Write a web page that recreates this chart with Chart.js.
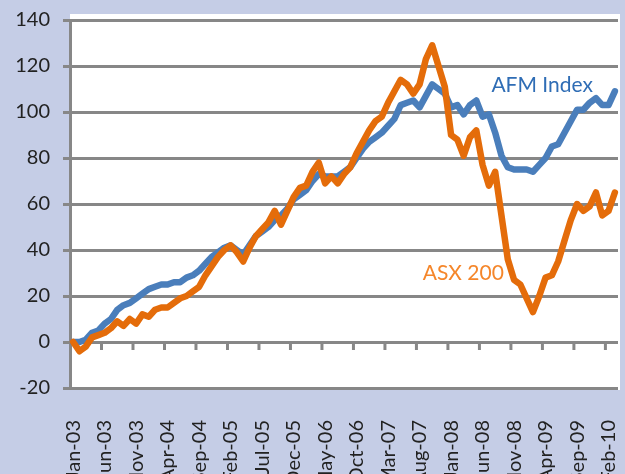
<!DOCTYPE html>
<html>
<head>
<meta charset="utf-8">
<script src="https://cdn.jsdelivr.net/npm/chart.js@4.4.1/dist/chart.umd.min.js"></script>
<style>
  html, body { margin: 0; padding: 0; background: #c5cde6; overflow: hidden; }
  #box { position: relative; width: 625px; height: 474px; }
</style>
</head>
<body>
<div id="box"><canvas id="chart"></canvas></div>
<script>
// monthly, Jan-03 .. Mar-10 (labels shown every 5 months)
const monthNames = ['Jan', 'Feb', 'Mar', 'Apr', 'May', 'Jun', 'Jul', 'Aug', 'Sep', 'Oct', 'Nov', 'Dec'];
const months = [];
for (let yr = 3; yr <= 10; yr++) {
    for (let m = 0; m < 12; m++) {
        if (yr === 10 && m > 2) break;
        months.push(monthNames[m] + '-' + String(yr).padStart(2, '0'));
    }
}

const afmIndex = [0, 0, 1, 4, 5, 8, 10, 14, 16, 17, 19, 21, 23, 24, 25, 25, 26, 26, 28, 29,
    31, 34, 37, 39, 41, 42, 40, 38, 42, 46, 48, 50, 53, 55, 58, 62, 64, 66, 70, 73,
    72, 72, 72, 74, 76, 80, 84, 87, 89, 91, 94, 97, 103, 104, 105, 102, 107, 112, 110, 108,
    102, 103, 99, 103, 105, 98, 99, 91, 81, 76, 75, 75, 75, 74, 77, 80, 85, 86, 91, 96,
    101, 101, 104, 106, 103, 103, 109];

const asx200 = [0, -4, -2, 2, 3, 4, 6, 9, 7, 10, 8, 12, 11, 14, 15, 15, 17, 19, 20, 22,
    24, 29, 33, 37, 40, 42, 39, 35, 41, 46, 49, 52, 57, 51, 57, 63, 67, 68, 74, 78,
    69, 72, 69, 73, 76, 82, 87, 92, 96, 98, 104, 109, 114, 112, 108, 112, 123, 129, 120, 111,
    90, 88, 81, 89, 92, 77, 68, 74, 55, 36, 27, 25, 19, 13, 20, 28, 29, 35, 44, 53,
    60, 57, 59, 65, 55, 57, 65];

const yTicks = { min: -20, max: 140, step: 20 };

const gridGrey = '#878787';
const fontFamily = 'Lato, "Open Sans", sans-serif';

const framePlugin = {
    id: 'frame',
    beforeDraw(chart) {
        const { ctx, chartArea: a } = chart;
        ctx.save();
        ctx.fillStyle = '#ffffff';
        ctx.fillRect(a.left, a.top - 6, a.right - a.left + 2, a.bottom - a.top + 8);
        ctx.restore();
    },
    beforeDatasetsDraw(chart) {
        // tick marks hang under the zero line, between categories
        const { ctx, scales } = chart;
        const y0 = scales.y.getPixelForValue(0);
        ctx.save();
        ctx.strokeStyle = gridGrey;
        ctx.lineWidth = 3;
        for (let i = 5; i < months.length; i += 5) {
            const px = (scales.x.getPixelForValue(i - 1) + scales.x.getPixelForValue(i)) / 2;
            ctx.beginPath();
            ctx.moveTo(px, y0);
            ctx.lineTo(px, y0 + 8);
            ctx.stroke();
        }
        ctx.restore();
    },
    afterDatasetsDraw(chart) {
        const { ctx, scales } = chart;
        ctx.save();
        ctx.textBaseline = 'middle';
        ctx.textAlign = 'left';
        ctx.font = '21px ' + fontFamily;
        ctx.fillStyle = '#2f6db5';
        ctx.fillText('AFM Index', scales.x.getPixelForValue(66.4), scales.y.getPixelForValue(111.5));
        ctx.fillStyle = '#f5862a';
        ctx.fillText('ASX 200', scales.x.getPixelForValue(55.5), scales.y.getPixelForValue(30));
        ctx.restore();
    }
};

new Chart(document.getElementById('chart'), {
    type: 'line',
    data: {
        labels: months,
        datasets: [
            {
                label: 'AFM Index',
                data: afmIndex,
                borderColor: '#4a7ebb',
                borderWidth: 6.5,
                pointRadius: 0,
                tension: 0,
                borderJoinStyle: 'round',
                borderCapStyle: 'round',
                order: 1
            },
            {
                label: 'ASX 200',
                data: asx200,
                borderColor: '#e46c0a',
                borderWidth: 6.5,
                pointRadius: 0,
                tension: 0,
                borderJoinStyle: 'round',
                borderCapStyle: 'round',
                order: 0
            }
        ]
    },
    options: {
        responsive: true,
        maintainAspectRatio: false,
        animation: false,
        layout: { padding: { top: 20, right: 7, left: 0, bottom: 0 } },
        plugins: {
            legend: { display: false },
            tooltip: { enabled: false }
        },
        scales: {
            x: {
                type: 'category',
                offset: true,
                grid: { display: false },
                border: { display: false },
                ticks: {
                    autoSkip: false,
                    minRotation: 90,
                    maxRotation: 90,
                    padding: 24,
                    color: '#222',
                    font: { family: fontFamily, size: 20 },
                    callback: (v, i) => (i % 5 === 0 ? months[i] : null)
                },
                afterFit(s) {
                    s.height = 86;
                    s.paddingLeft = 0;
                    s.paddingRight = 0;
                }
            },
            y: {
                min: yTicks.min,
                max: yTicks.max,
                ticks: {
                    stepSize: yTicks.step,
                    padding: 13,
                    color: '#222',
                    font: { family: fontFamily, size: 20 }
                },
                grid: { color: gridGrey, lineWidth: 3, tickLength: 7 },
                border: { color: gridGrey, width: 3 },
                afterFit(s) {
                    s.width = 70;
                    s.paddingTop = 0;
                    s.paddingBottom = 0;
                }
            }
        }
    },
    plugins: [framePlugin]
});
</script>
</body>
</html>
